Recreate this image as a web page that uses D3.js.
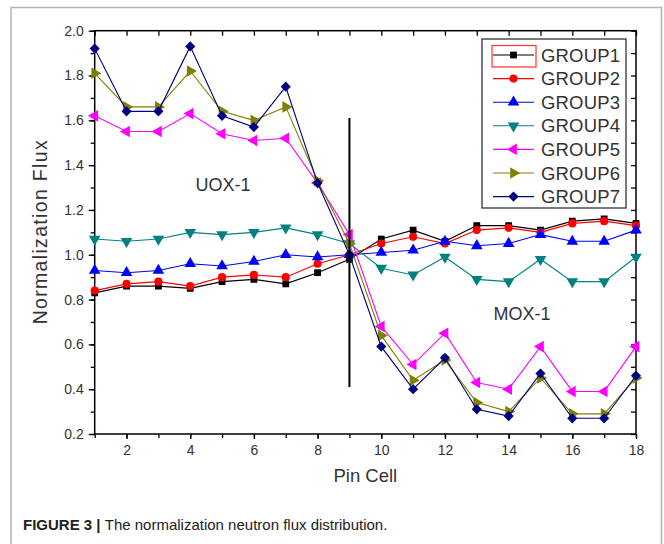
<!DOCTYPE html>
<html>
<head>
<meta charset="utf-8">
<script src="https://cdn.jsdelivr.net/npm/d3@7"></script>
<style>
  body { margin: 0; background: #fff; }
  svg { display: block; font-family: "Liberation Sans", Arial, sans-serif; }
</style>
</head>
<body>
<svg width="664" height="544"></svg>
<script>
// pin cell positions
const pinCells = [1,2,3,4,5,6,7,8,9,10,11,12,13,14,15,16,17,18];

// normalized flux per energy group
const group1 = [0.83,0.86,0.86,0.85,0.88,0.89,0.87,0.92,0.98,1.07,1.11,1.06,1.13,1.13,1.11,1.15,1.16,1.14];
const group2 = [0.84,0.87,0.88,0.86,0.90,0.91,0.90,0.96,1.00,1.05,1.08,1.05,1.11,1.12,1.10,1.14,1.15,1.13];
const group3 = [0.93,0.92,0.93,0.96,0.95,0.97,1.00,0.99,1.00,1.01,1.02,1.06,1.04,1.05,1.09,1.06,1.06,1.11];
const group4 = [1.07,1.06,1.07,1.10,1.09,1.10,1.12,1.09,1.05,0.94,0.91,0.99,0.89,0.88,0.98,0.88,0.88,0.99];
const group5 = [1.62,1.55,1.55,1.63,1.54,1.51,1.52,1.32,1.09,0.68,0.51,0.65,0.43,0.40,0.59,0.39,0.39,0.59];
const group6 = [1.81,1.66,1.66,1.82,1.64,1.60,1.66,1.33,1.05,0.64,0.44,0.53,0.34,0.30,0.45,0.29,0.29,0.45];
const group7 = [1.92,1.64,1.64,1.93,1.62,1.57,1.75,1.32,1.00,0.59,0.40,0.54,0.31,0.28,0.47,0.27,0.27,0.46];

const groupNames = ["GROUP1","GROUP2","GROUP3","GROUP4","GROUP5","GROUP6","GROUP7"];
const xTicks = [2,4,6,8,10,12,14,16,18];
const yTicks = [0.2,0.4,0.6,0.8,1.0,1.2,1.4,1.6,1.8,2.0];

// boundary between the two assemblies
const boundaryX = 9;
const boundaryY = [0.41, 1.61];

const series = [
  {name: groupNames[0], values: group1, color: "#000000", shape: "square"},
  {name: groupNames[1], values: group2, color: "#ff0000", shape: "circle"},
  {name: groupNames[2], values: group3, color: "#0000ff", shape: "up"},
  {name: groupNames[3], values: group4, color: "#008080", shape: "down"},
  {name: groupNames[4], values: group5, color: "#ff00ff", shape: "left"},
  {name: groupNames[5], values: group6, color: "#808000", shape: "right"},
  {name: groupNames[6], values: group7, color: "#000080", shape: "diamond"},
];

const svg = d3.select("svg");

// outer figure frame (open at the bottom)
svg.append("path")
  .attr("d", "M11,544 V7.5 H661.5 V544")
  .attr("fill", "none")
  .attr("stroke", "#b4b4b4")
  .attr("stroke-width", 1.5);

const x = d3.scaleLinear().domain([1, 18]).range([94.7, 636]);
const y = d3.scaleLinear().domain([0.2, 2.0]).range([434, 30.7]);

const xMinor = d3.range(1, 19);
const yMinor = d3.range(2, 21).map(d => d / 10);

// bottom axis: outward ticks, labels at even cells
svg.append("g")
  .attr("transform", `translate(0,${y(0.2)})`)
  .call(d3.axisBottom(x).tickValues(xMinor).tickSize(4).tickFormat(""))
  .call(g => g.select(".domain").remove());
svg.append("g")
  .attr("transform", `translate(0,${y(0.2)})`)
  .call(d3.axisBottom(x).tickValues(xTicks).tickSize(5).tickPadding(6).tickFormat(d3.format("d")))
  .call(g => g.select(".domain").remove())
  .call(g => g.selectAll("text").attr("font-size", 14).attr("fill", "#333").attr("font-family", "Liberation Sans, Arial"));

// left axis
svg.append("g")
  .attr("transform", `translate(${x(1)},0)`)
  .call(d3.axisLeft(y).tickValues(yMinor).tickSize(4).tickFormat(""))
  .call(g => g.select(".domain").remove());
svg.append("g")
  .attr("transform", `translate(${x(1)},0)`)
  .call(d3.axisLeft(y).tickValues(yTicks).tickSize(6).tickPadding(5).tickFormat(d3.format(".1f")))
  .call(g => g.select(".domain").remove())
  .call(g => g.selectAll("text").attr("font-size", 14).attr("fill", "#333").attr("font-family", "Liberation Sans, Arial"));

// top and right axes, inward ticks
svg.append("g")
  .attr("transform", `translate(0,${y(2.0)})`)
  .call(d3.axisTop(x).tickValues(xMinor).tickSize(-5).tickFormat(""))
  .call(g => g.select(".domain").remove());
svg.append("g")
  .attr("transform", `translate(${x(18)},0)`)
  .call(d3.axisRight(y).tickValues(yMinor).tickSize(-5).tickFormat(""))
  .call(g => g.select(".domain").remove());

svg.selectAll(".tick line").attr("stroke", "#000").attr("stroke-width", 1.3);

// plot frame
svg.append("rect")
  .attr("x", x(1)).attr("y", y(2.0))
  .attr("width", x(18) - x(1)).attr("height", y(0.2) - y(2.0))
  .attr("fill", "none").attr("stroke", "#000").attr("stroke-width", 1.5);

function symbolPath(shape) {
  switch (shape) {
    case "square": return d3.symbol(d3.symbolSquare, 46)();
    case "circle": return d3.symbol(d3.symbolCircle, 52)();
    case "diamond": return d3.symbol(d3.symbolSquare, 52)();
    default: return d3.symbol(d3.symbolTriangle, 58)();
  }
}
function symbolRotate(shape) {
  return {down: 180, left: -90, right: 90, diamond: 45}[shape] || 0;
}

const line = d3.line()
  .x((d, i) => x(pinCells[i]))
  .y(d => y(d));

// lines first, then markers, drawn group by group
series.forEach(s => {
  const g = svg.append("g");
  g.append("path")
    .datum(s.values)
    .attr("d", line)
    .attr("fill", "none")
    .attr("stroke", s.color)
    .attr("stroke-width", 1.1);
  g.selectAll("path.mark")
    .data(s.values)
    .enter()
    .append("path")
    .attr("class", "mark")
    .attr("d", symbolPath(s.shape))
    .attr("fill", s.color)
    .attr("transform", (d, i) => `translate(${x(pinCells[i])},${y(d)}) rotate(${symbolRotate(s.shape)})`);
});

// assembly boundary
svg.append("line")
  .attr("x1", x(boundaryX)).attr("x2", x(boundaryX))
  .attr("y1", y(boundaryY[0])).attr("y2", y(boundaryY[1]))
  .attr("stroke", "#000").attr("stroke-width", 2);

svg.append("text")
  .attr("x", x(5.03)).attr("y", y(1.314)).attr("dy", "0.35em")
  .attr("text-anchor", "middle").attr("font-size", 18).attr("fill", "#333")
  .text("UOX-1");
svg.append("text")
  .attr("x", x(14.42)).attr("y", y(0.735)).attr("dy", "0.35em")
  .attr("text-anchor", "middle").attr("font-size", 18).attr("fill", "#333")
  .text("MOX-1");

// legend
const legend = svg.append("g");
legend.append("rect")
  .attr("x", 482).attr("y", 39).attr("width", 144).attr("height", 169)
  .attr("fill", "#fff").attr("stroke", "#333").attr("stroke-width", 1.3);
legend.append("rect")
  .attr("x", 492).attr("y", 45.5).attr("width", 44).attr("height", 21.5)
  .attr("fill", "none").attr("stroke", "#ff3030").attr("stroke-width", 1.2);
series.forEach((s, i) => {
  const ly = 55 + i * 23.6;
  legend.append("line")
    .attr("x1", 493).attr("x2", 534).attr("y1", ly).attr("y2", ly)
    .attr("stroke", s.color).attr("stroke-width", 1.1);
  legend.append("path")
    .attr("d", symbolPath(s.shape))
    .attr("fill", s.color)
    .attr("transform", `translate(513.5,${ly}) rotate(${symbolRotate(s.shape)})`);
  legend.append("text")
    .attr("x", 541).attr("y", ly).attr("dy", "0.36em")
    .attr("font-size", 18.5).attr("fill", "#333")
    .attr("textLength", 79).attr("lengthAdjust", "spacing")
    .text(s.name);
});

// axis titles
svg.append("text")
  .attr("x", (x(1) + x(18)) / 2).attr("y", 482)
  .attr("text-anchor", "middle").attr("font-size", 18.5).attr("fill", "#333")
  .text("Pin Cell");
svg.append("text")
  .attr("transform", `translate(47,${(y(0.2) + y(2.0)) / 2}) rotate(-90)`)
  .attr("text-anchor", "middle").attr("font-size", 19.5).attr("fill", "#333")
  .attr("textLength", 184).attr("lengthAdjust", "spacing")
  .text("Normalization Flux");

// caption
const cap = svg.append("text")
  .attr("x", 23).attr("y", 530)
  .attr("font-size", 15).attr("fill", "#222");
cap.append("tspan").attr("font-weight", "bold").text("FIGURE 3 | ");
cap.append("tspan").text("The normalization neutron flux distribution.");
</script>
</body>
</html>
